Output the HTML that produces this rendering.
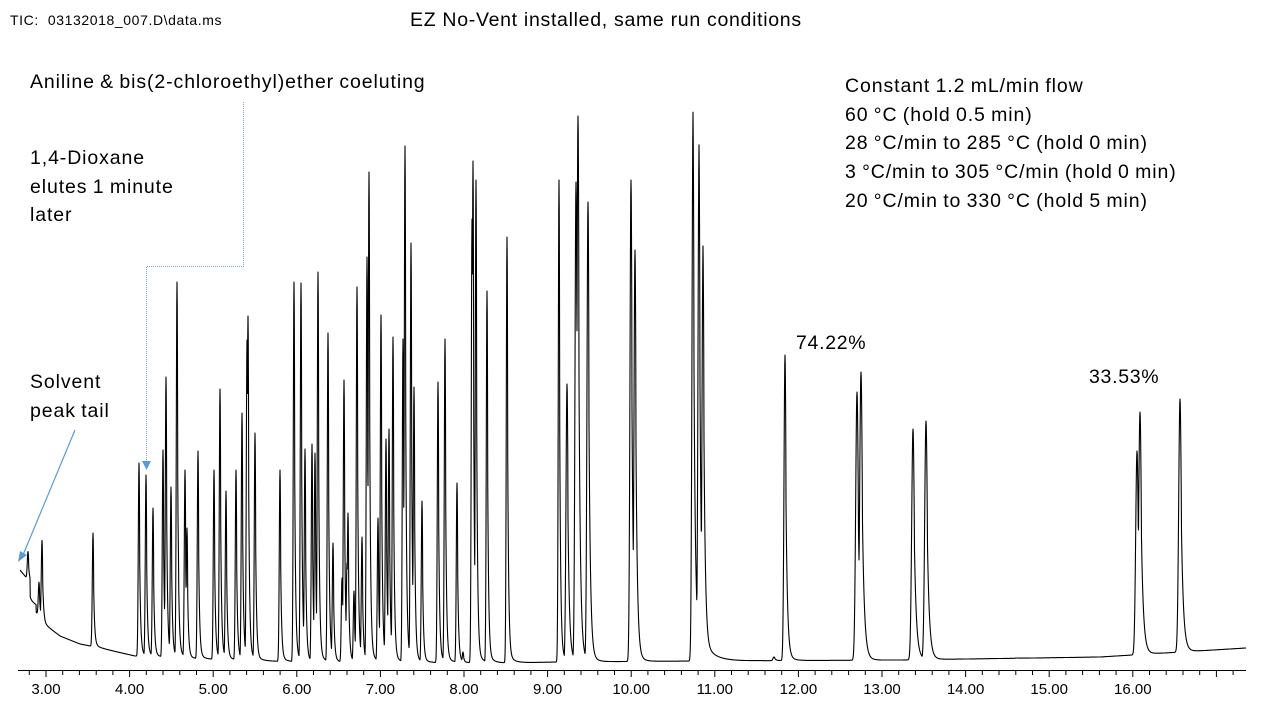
<!DOCTYPE html>
<html><head><meta charset="utf-8"><style>
html,body{margin:0;padding:0;background:#fff;}
body{width:1280px;height:720px;position:relative;overflow:hidden;font-family:"Liberation Sans",Arial,sans-serif;}
.t{position:absolute;white-space:nowrap;color:#000;}
.a{font-size:19.5px;line-height:28.7px;letter-spacing:0.9px;word-spacing:-1px;}
</style></head><body>
<svg id="s" width="1280" height="720" style="position:absolute;left:0;top:0">
<g id="ticks" stroke="#000" stroke-width="1"></g>
<line x1="18" y1="670.5" x2="1246" y2="670.5" stroke="#000" stroke-width="1"/>
<path id="p" fill="none" stroke="#000" stroke-width="1.1" stroke-linejoin="round"/>
<polyline points="243.5,102 243.5,266.5 146.5,266.5 146.5,462" fill="none" stroke="#7da7d6" stroke-width="1" stroke-dasharray="1,1"/>
<polygon points="142,461 151,461 146.5,470" fill="#5b9bd5"/>
<line x1="75" y1="430" x2="23" y2="555" stroke="#5b9bd5" stroke-width="1.2"/>
<polygon points="18,562 20,551 27,555" fill="#5b9bd5"/>
<g id="lab" font-family="Liberation Sans, Arial, sans-serif" font-size="15" text-anchor="middle" fill="#000"></g>
</svg>
<div class="t" style="left:10px;top:12px;font-size:14px;letter-spacing:0.6px;">TIC: &nbsp;03132018_007.D\data.ms</div>
<div class="t" style="left:410px;top:9px;font-size:19.5px;letter-spacing:0.7px;">EZ No-Vent installed, same run conditions</div>
<div class="t a" style="left:30px;top:68px;">Aniline &amp; bis(2-chloroethyl)ether coeluting</div>
<div class="t a" style="left:30px;top:144px;">1,4-Dioxane<br>elutes 1 minute<br>later</div>
<div class="t a" style="left:30px;top:368px;">Solvent<br>peak tail</div>
<div class="t a" style="left:845px;top:72px;">Constant 1.2 mL/min flow<br>60 °C (hold 0.5 min)<br>28 °C/min to 285 °C (hold 0 min)<br>3 °C/min to 305 °C/min (hold 0 min)<br>20 °C/min to 330 °C (hold 5 min)</div>
<div class="t" style="left:796px;top:332px;font-size:19.5px;letter-spacing:0.7px;">74.22%</div>
<div class="t" style="left:1089px;top:366px;font-size:19.5px;letter-spacing:0.7px;">33.53%</div>
<script>
var ns="http://www.w3.org/2000/svg";
var tk=document.getElementById("ticks"),lb=document.getElementById("lab");
var x0=46,ppm=83.6;
for(var i=-2;i<=72;i++){var m=3+i*0.2;var x=x0+i*0.2*ppm;if(x<18||x>1246)continue;
var major=(i%5==0);var l=document.createElementNS(ns,"line");
l.setAttribute("x1",x.toFixed(1));l.setAttribute("x2",x.toFixed(1));l.setAttribute("y1",670);l.setAttribute("y2",major?677:675);tk.appendChild(l);
if(major&&m<16.5){var t=document.createElementNS(ns,"text");t.setAttribute("x",x.toFixed(1));t.setAttribute("y",694);t.textContent=m.toFixed(2);lb.appendChild(t);}}
var B=[[45,625],[60,636],[80,644],[100,648],[135,656],[200,659],[300,662],[500,663],[560,662],[700,661],[900,660],[1100,657],[1246,648]];
function base(x){if(x<=B[0][0])return B[0][1];for(var i=1;i<B.length;i++){if(x<=B[i][0]){var a=B[i-1],b=B[i];return a[1]+(b[1]-a[1])*(x-a[0])/(b[0]-a[0]);}}return 648;}
var P=[[28,566],[39,578],[42,532],[93,533],[139,463],[146,475],[153,508],[163,450],[166,377],[171,487],[177,282],[178,530],[185,470],[187,528],[198,451],[214,470],[220,389],[226,491],[236,470],[242,413],[247,340],[248,316],[255,433],[280,470],[294,282],[301,283],[305,449],[312,444],[315,453],[318,272],[328,333],[333,543],[342,578],[344,380],[348,513],[347,563],[354,591],[357,287],[362,537],[367,257],[369,172],[378,518],[381,315],[386,439],[389,429],[393,337],[403,339],[405,146],[411,243],[414,387],[422,501],[438,382],[445,339],[457,483],[463,652],[472,219],[473,161],[476,180],[487,291],[507,237],[559,180],[567,384],[576,182],[578,116],[588,202],[631,180],[635,250],[693,123],[699,155],[703,254],[774,657],[785,355],[857,392],[861,372],[913,429],[926,421],[1017,658],[1137,451],[1140,412],[1180,399]];
function sig(x){
 var b;
 if(x<45){b=570+(x-20)*1.2; if(x>30) b=600+(x-30)*0.8; if(x>36) b=612+(x-36)*1.4;}
 else b=base(x);
 var best=0;
 for(var i=0;i<P.length;i++){var px=P[i][0],h=base(px)-P[i][1];if(px<45)h=(px<30?594:612)-P[i][1];
  var d=x-px;if(d<-8||d>60)continue;
  var s=px<560?0.7:(px<800?1.0:1.3),t=px<560?1.0:(px<800?1.5:2.0);
  var late=px>680&&px<720;
  var v;
  if(d<0)v=h*Math.exp(-0.5*d*d/(s*s));
  else{v=h*(0.97*Math.exp(-d/t)+(late?0.05*Math.exp(-d/10):0.025*Math.exp(-d/5)));
   if(d<s)v=Math.max(v,h*Math.exp(-0.5*d*d/(s*s)));}
  if(v>best)best=v;}
 return b-best;}
var d="";var first=true;
for(var x=20;x<=1246;x+=0.25){var y=sig(x);d+=(first?"M":"L")+x.toFixed(2)+","+y.toFixed(1);first=false;}
document.getElementById("p").setAttribute("d",d);
</script>
</body></html>
